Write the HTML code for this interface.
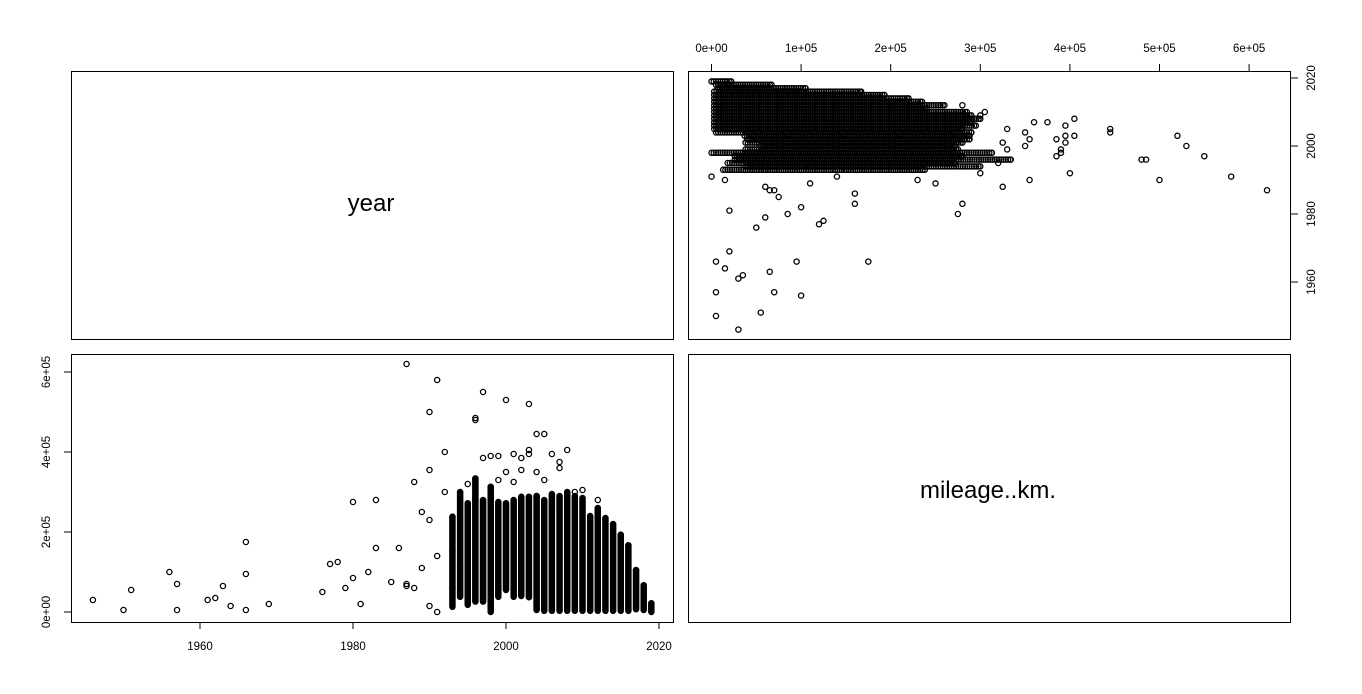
<!DOCTYPE html>
<html><head><meta charset="utf-8"><style>
body{margin:0;background:#fff;}
svg{display:block;font-family:"Liberation Sans",sans-serif;}
</style></head><body>
<svg id="c" width="1362" height="694"></svg>
<script>
// data (mileage in units of 1e5 km)
const denseYears=[1993,1994,1995,1996,1997,1998,1999,2000,2001,2002,2003,2004,2005,2006,2007,2008,2009,2010,2011,2012,2013,2014,2015,2016,2017,2018,2019];
const denseMax=[2.38,3.0,2.72,3.34,2.8,3.13,2.75,2.72,2.8,2.88,2.88,2.9,2.8,2.95,2.9,3.0,2.9,2.85,2.4,2.6,2.35,2.2,1.93,1.67,1.05,0.67,0.22];
const denseMin=[0.13,0.38,0.18,0.26,0.26,0.0,0.38,0.55,0.38,0.4,0.37,0.05,0.03,0.03,0.03,0.03,0.03,0.03,0.03,0.03,0.03,0.03,0.03,0.03,0.07,0.05,0.0];
const outYears=[1946,1950,1951,1956,1957,1957,1961,1962,1963,1964,1966,1966,1966,1969,1976,1977,1978,1979,1980,1980,1981,1982,1983,1983,1985,1986,1987,1987,1987,1988,1988,1989,1989,1990,1990,1990,1990,1991,1991,1991,1992,1992,1993,1993,1994,1994,1995,1996,1996,1997,1997,1998,1999,2000,2000,2001,2002,2002,2003,2003,2003,2004,2005,2006,2007,2007,2008,2009,2010,2012,1999,2001,2004,2005];
const outMiles=[0.3,0.05,0.55,1.0,0.7,0.05,0.3,0.35,0.65,0.15,1.75,0.95,0.05,0.2,0.5,1.2,1.25,0.6,2.75,0.85,0.2,1.0,1.6,2.8,0.75,1.6,6.2,0.65,0.7,3.25,0.6,2.5,1.1,5.0,3.55,2.3,0.15,5.8,0.0,1.4,4.0,3.0,1.5,0.6,1.1,2.3,3.2,4.8,4.85,5.5,3.85,3.9,3.9,5.3,3.5,3.95,3.85,3.55,5.2,3.95,4.05,4.45,4.45,3.95,3.6,3.75,4.05,3.0,3.05,2.8,3.3,3.25,3.5,3.3];
const yearTicks=[1960,1980,2000,2020];
const mileTicksBL=[0,2,4,6];
const mileTicksTR=[0,1,2,3,4,5,6];
const mileLabels=["0e+00","1e+05","2e+05","3e+05","4e+05","5e+05","6e+05"];

const NS="http://www.w3.org/2000/svg";
const svg=document.getElementById('c');
function mk(t,a,p){const e=document.createElementNS(NS,t);for(const k in a)e.setAttribute(k,a[k]);(p||svg).appendChild(e);return e;}
const blX=y=>200+(y-1960)*7.65, blY=m=>612-m*40;
const trX=m=>711.5+m*89.6, trY=y=>78+(2020-y)*3.4;

[[71,71,'panel-year-diagonal'],[688,71,'panel-mileage-vs-year'],[71,354,'panel-year-vs-mileage'],[688,354,'panel-mileage-diagonal']].forEach(p=>{
 const r=mk('rect',{x:p[0]+.5,y:p[1]+.5,width:602,height:268,fill:'none',stroke:'#000'});
 
 
});
let t=mk('text',{x:371,y:211,'font-size':24,'text-anchor':'middle'});t.textContent='year';


t=mk('text',{x:988,y:498,'font-size':24,'text-anchor':'middle'});t.textContent='mileage..km.';



const gBL=mk('g',{fill:'none',stroke:'#000','stroke-width':1.3});


const gTR=mk('g',{fill:'none',stroke:'#000','stroke-width':1.3});


function pt(y,m){
 mk('circle',{cx:blX(y),cy:blY(m),r:2.6},gBL);
 mk('circle',{cx:trX(m),cy:trY(y),r:2.6},gTR);
}
denseYears.forEach((y,i)=>{
 for(let m=denseMin[i];m<=denseMax[i]+1e-9;m+=0.025){pt(y,m);}
 pt(y,denseMax[i]);
});
outYears.forEach((y,i)=>pt(y,outMiles[i]));

mk('line',{x1:blX(1960),x2:blX(2020),y1:622.5,y2:622.5,stroke:'#000'});
yearTicks.forEach(v=>{
 mk('line',{x1:blX(v),x2:blX(v),y1:622,y2:629,stroke:'#000'});
 const tx=mk('text',{x:blX(v),y:650,'font-size':11.5,'text-anchor':'middle'});tx.textContent=v;
 
 
});
mk('line',{x1:71.5,x2:71.5,y1:blY(0),y2:blY(6),stroke:'#000'});
mileTicksBL.forEach(v=>{
 mk('line',{x1:64,x2:71,y1:blY(v),y2:blY(v),stroke:'#000'});
 const tx=mk('text',{x:0,y:0,'font-size':11.5,'text-anchor':'middle',transform:`translate(50,${blY(v)}) rotate(-90)`});tx.textContent=mileLabels[v];
 
 
});
mk('line',{x1:trX(0),x2:trX(6),y1:71.5,y2:71.5,stroke:'#000'});
mileTicksTR.forEach(v=>{
 mk('line',{x1:trX(v),x2:trX(v),y1:64,y2:71,stroke:'#000'});
 const tx=mk('text',{x:trX(v),y:52,'font-size':11.5,'text-anchor':'middle'});tx.textContent=mileLabels[v];
 
 
});
mk('line',{x1:1290.5,x2:1290.5,y1:trY(1960),y2:trY(2020),stroke:'#000'});
yearTicks.forEach(v=>{
 mk('line',{x1:1291,x2:1298,y1:trY(v),y2:trY(v),stroke:'#000'});
 const tx=mk('text',{x:0,y:0,'font-size':11.5,'text-anchor':'middle',transform:`translate(1315,${trY(v)}) rotate(-90)`});tx.textContent=v;
 
 
});
</script>
</body></html>
